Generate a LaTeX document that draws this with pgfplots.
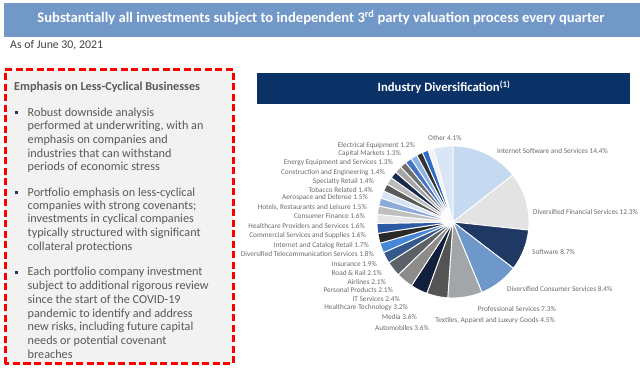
\documentclass[border=0pt]{standalone}
\usepackage{pgfplots}
\pgfplotsset{compat=1.18}
\usepackage{pgfplotstable}
\usepackage{fontspec}
\setmainfont{Carlito}

\definecolor{titleblue}{HTML}{7198C7}
\definecolor{navybar}{HTML}{0A3266}
\definecolor{boxgrey}{HTML}{F2F2F2}
\definecolor{txtgrey}{HTML}{595959}
\definecolor{lblgrey}{HTML}{6A6A6A}
\definecolor{bulletnavy}{HTML}{1F3864}

\definecolor{slice0}{HTML}{C5D9F1}
\definecolor{slice1}{HTML}{E3E3E3}
\definecolor{slice2}{HTML}{1F3864}
\definecolor{slice3}{HTML}{6F98CA}
\definecolor{slice4}{HTML}{A3A6A9}
\definecolor{slice5}{HTML}{545454}
\definecolor{slice6}{HTML}{12203D}
\definecolor{slice7}{HTML}{8E8C8B}
\definecolor{slice8}{HTML}{5C6167}
\definecolor{slice9}{HTML}{36598C}
\definecolor{slice10}{HTML}{4787D6}
\definecolor{slice11}{HTML}{2A2A2A}
\definecolor{slice12}{HTML}{2D5BA3}
\definecolor{slice13}{HTML}{E6E6E6}
\definecolor{slice14}{HTML}{BFBFBF}
\definecolor{slice15}{HTML}{8EAADB}
\definecolor{slice16}{HTML}{D6E3F3}
\definecolor{slice17}{HTML}{595959}
\definecolor{slice18}{HTML}{BBBBBB}
\definecolor{slice19}{HTML}{172A4C}
\definecolor{slice20}{HTML}{A6A6A6}
\definecolor{slice21}{HTML}{707070}
\definecolor{slice22}{HTML}{4472C4}
\definecolor{slice23}{HTML}{8DB4E2}
\definecolor{slice24}{HTML}{333333}
\definecolor{slice25}{HTML}{2F6DC9}
\definecolor{slice26}{HTML}{F2F2F2}
\definecolor{slice27}{HTML}{DAE6F5}

% share of each industry, in %, clockwise from 12 o'clock
\pgfplotstableread{
share
14.4
12.3
8.7
8.4
7.3
4.5
3.6
3.6
3.2
2.4
2.1
2.1
2.1
1.9
1.8
1.7
1.6
1.6
1.6
1.5
1.5
1.4
1.4
1.4
1.3
1.3
1.2
4.1
}\piedata

\newcommand\bl[2]{\node[anchor=base west, inner sep=0pt, text=txtgrey, font=\fontsize{12.2}{14}\selectfont] at (27.5,{365.5-#1}) {#2};}
\newcommand\bul[1]{\fill[bulletnavy] (15,{367.6-#1}) rectangle (17.6,{370.2-#1});}
\newcommand\lftlbl[3]{\node[anchor=mid east, inner sep=0pt, text=lblgrey, font=\fontsize{7.3}{9}\selectfont] at (#1,{369-#2}) {#3};}
\newcommand\rgtlbl[3]{\node[anchor=mid west, inner sep=0pt, text=lblgrey, font=\fontsize{7.3}{9}\selectfont] at (#1,{369-#2}) {#3};}

\begin{document}
\begin{tikzpicture}[x=1pt,y=1pt]
\path (0,0) rectangle (640,369);
% header
\fill[titleblue] (4,332) rectangle (640,366);
\node[anchor=mid, inner sep=0pt, text=white, font=\bfseries\fontsize{14.6}{17}\selectfont] at (321,349) {Substantially all investments subject to independent 3\textsuperscript{rd} party valuation process every quarter};
\node[anchor=mid west, inner sep=0pt, text=black!75, font=\fontsize{11.8}{14}\selectfont] at (10,323) {As of June 30, 2021};

% left box
\draw[red, line width=3pt, dash pattern=on 7pt off 3.5pt, fill=boxgrey] (5,5) rectangle (233,299);
\node[anchor=base west, inner sep=0pt, text=txtgrey, font=\bfseries\fontsize{12.2}{14}\selectfont] at (14,{365.5-86.7}) {Emphasis on Less-Cyclical Businesses};
\bul{112.7}
\bl{112.7}{Robust downside analysis}
\bl{126.3}{performed at underwriting, with an}
\bl{140}{emphasis on companies and}
\bl{153.7}{industries that can withstand}
\bl{167.3}{periods of economic stress}
\bul{192.7}
\bl{192.7}{Portfolio emphasis on less-cyclical}
\bl{206}{companies with strong covenants;}
\bl{219.5}{investments in cyclical companies}
\bl{233.3}{typically structured with significant}
\bl{247.3}{collateral protections}
\bul{272.3}
\bl{272.3}{Each portfolio company investment}
\bl{286}{subject to additional rigorous review}
\bl{300}{since the start of the COVID-19}
\bl{313.7}{pandemic to identify and address}
\bl{327.4}{new risks, including future capital}
\bl{341}{needs or potential covenant}
\bl{355}{breaches}

% chart header
\fill[navybar] (257,265) rectangle (630,296);
\node[anchor=mid, inner sep=0pt, text=white, font=\bfseries\fontsize{12.7}{15}\selectfont] at (444,280) {Industry Diversification\textsuperscript{(1)}};

% pie
\begin{axis}[at={(453pt,147pt)}, anchor=center, scale only axis, width=152pt, height=152pt,
  xmin=-1, xmax=1, ymin=-1, ymax=1, hide axis, clip=false]
\pgfmathsetmacro\cum{0}
\pgfplotsforeachungrouped \i in {0,...,27}{%
  \pgfplotstablegetelem{\i}{share}\of\piedata
  \pgfmathsetmacro\a{90-3.6*\cum}%
  \pgfmathsetmacro\cum{\cum+\pgfplotsretval}%
  \pgfmathsetmacro\b{90-3.6*\cum}%
  \edef\temp{\noexpand\addplot[draw=white, line width=0.9pt, line join=round, fill=slice\i, domain=\b:\a, samples=60, variable=\noexpand\t] ({cos(\noexpand\t)},{sin(\noexpand\t)}) -- (axis cs:0,0) -- cycle;}%
  \temp
}
\end{axis}

% labels
\rgtlbl{428}{138}{Other 4.1\%}
\rgtlbl{497}{151}{Internet Software and Services 14.4\%}
\rgtlbl{533}{212}{Diversified Financial Services 12.3\%}
\rgtlbl{532}{252}{Software 8.7\%}
\rgtlbl{507}{289}{Diversified Consumer Services 8.4\%}
\lftlbl{556}{309}{Professional Services 7.3\%}
\lftlbl{555}{320}{Textiles, Apparel and Luxury Goods 4.5\%}
\lftlbl{429}{328}{Automobiles 3.6\%}
\lftlbl{417}{317}{Media 3.6\%}
\lftlbl{408}{307}{Healthcare Technology 3.2\%}
\lftlbl{400}{299}{IT Services 2.4\%}
\lftlbl{393}{290}{Personal Products 2.1\%}
\lftlbl{386}{282}{Airlines 2.1\%}
\lftlbl{382}{273}{Road \& Rail 2.1\%}
\lftlbl{377}{264}{Insurance 1.9\%}
\lftlbl{374}{254}{Diversified Telecommunication Services 1.8\%}
\lftlbl{369}{245}{Internet and Catalog Retail 1.7\%}
\lftlbl{366}{235}{Commercial Services and Supplies 1.6\%}
\lftlbl{365}{226}{Healthcare Providers and Services 1.6\%}
\lftlbl{365}{216}{Consumer Finance 1.6\%}
\lftlbl{367}{207}{Hotels, Restaurants and Leisure 1.5\%}
\lftlbl{368}{197}{Aerospace and Defense 1.5\%}
\lftlbl{373}{190}{Tobacco Related 1.4\%}
\lftlbl{374}{181}{Specialty Retail 1.4\%}
\lftlbl{385}{172}{Construction and Engineering 1.4\%}
\lftlbl{393}{162}{Energy Equipment and Services 1.3\%}
\lftlbl{401}{153}{Capital Markets 1.3\%}
\lftlbl{415}{145}{Electrical Equipment 1.2\%}
\end{tikzpicture}
\end{document}
